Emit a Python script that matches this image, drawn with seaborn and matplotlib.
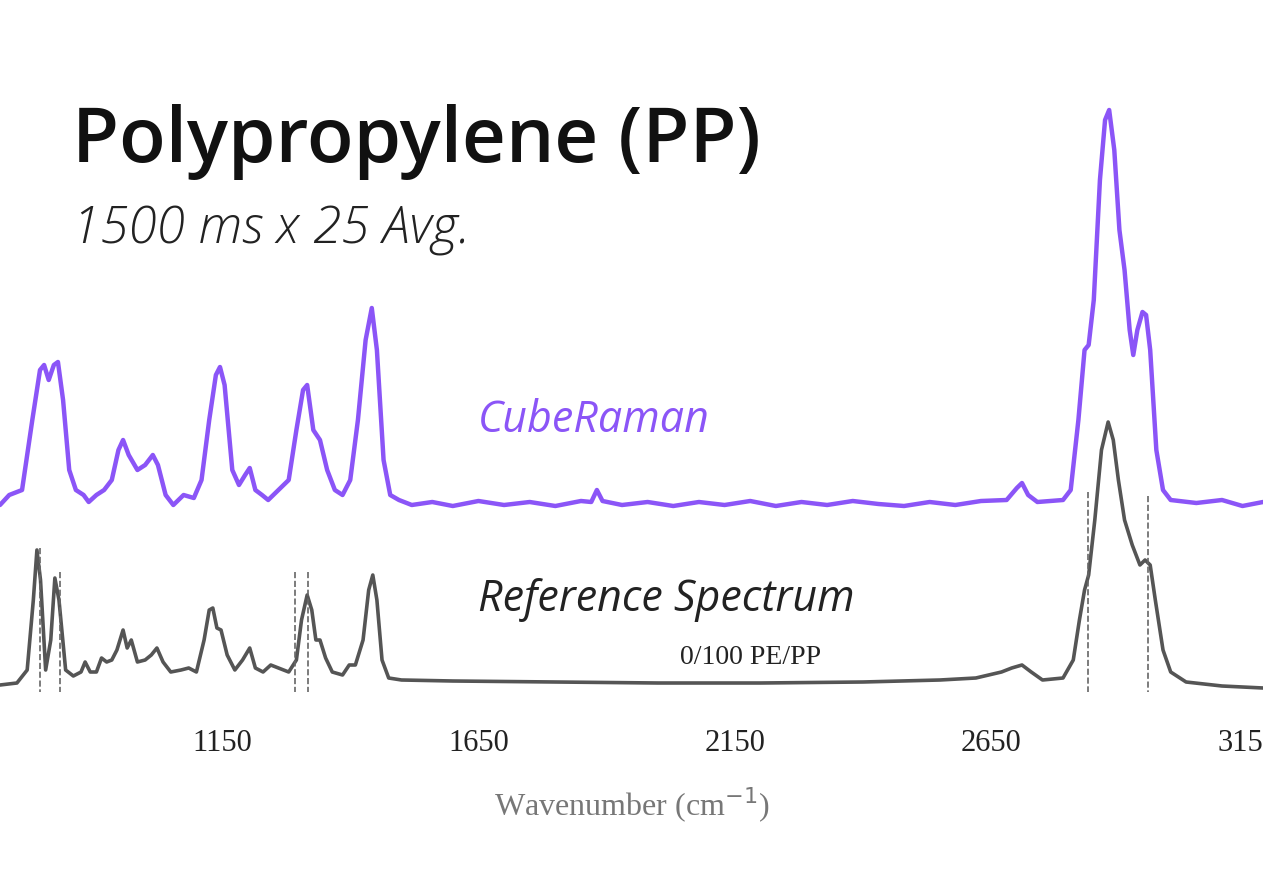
import numpy as np
import pandas as pd
import seaborn as sns
import matplotlib.pyplot as plt

# ============================
# Data (intensity in arbitrary units)
# ============================
cube_wn = [717, 735, 760, 780, 795, 803, 812, 822, 830, 840, 852, 865, 880, 890, 905, 920, 935, 948, 957, 968,
           985, 1000, 1015, 1025, 1040, 1055, 1075, 1095, 1110, 1125, 1138, 1146, 1155, 1170, 1183, 1195, 1204,
           1215, 1228, 1240, 1260, 1280, 1295, 1308, 1316, 1328, 1341, 1355, 1370, 1385, 1400, 1415, 1430, 1442,
           1452, 1465, 1478, 1495, 1520, 1560, 1600, 1650, 1700, 1750, 1800, 1850, 1870, 1881, 1892, 1930, 1980,
           2030, 2080, 2130, 2180, 2230, 2280, 2330, 2380, 2430, 2480, 2530, 2580, 2630, 2680, 2700, 2710, 2722,
           2740, 2790, 2805, 2820, 2832, 2840, 2850, 2862, 2872, 2880, 2890, 2900, 2910, 2920, 2927, 2935, 2945,
           2952, 2960, 2972, 2985, 3000, 3050, 3100, 3140, 3180]
cube_py = [505, 495, 490, 420, 370, 365, 380, 365, 362, 400, 470, 490, 495, 502, 495, 490, 480, 450, 440, 455,
           470, 465, 455, 465, 495, 505, 495, 498, 480, 420, 375, 367, 385, 470, 485, 475, 468,
           490, 495, 500, 490, 480, 430, 390, 385, 430, 440, 470, 490, 495, 480, 420, 340, 308,
           350, 460, 495, 500, 505, 502, 506, 501, 505, 502, 506, 501, 502, 490, 501, 505, 502,
           506, 502, 505, 501, 506, 502, 505, 501, 504, 506, 502, 505, 501, 500, 488, 483, 495,
           502, 500, 490, 420, 350, 345, 300, 180, 120, 110, 150, 230, 270, 330, 355, 330, 312,
           315, 350, 450, 490, 500, 503, 500, 506, 502]

ref_wn = [717, 750, 770, 782, 789, 796, 806, 816, 824, 832, 845, 860, 875, 883, 893, 905, 915, 925, 935, 945, 957,
          965, 973, 985, 1000, 1012, 1023, 1035, 1050, 1070, 1085, 1100, 1115, 1125, 1132, 1140, 1148, 1160, 1175,
          1190, 1204, 1215, 1230, 1245, 1260, 1280, 1295, 1305, 1316, 1325, 1333, 1341, 1352, 1365, 1385, 1398,
          1410, 1425, 1436, 1444, 1452, 1462, 1475, 1500, 1600, 1800, 2000, 2200, 2400, 2550, 2620, 2670, 2690,
          2710, 2728, 2750, 2790, 2810, 2822, 2832, 2840, 2852, 2865, 2878, 2888, 2898, 2910, 2925, 2940, 2950,
          2960, 2970, 2985, 3000, 3030, 3100, 3180]
ref_py = [685, 683, 670, 600, 550, 580, 670, 640, 578, 600, 670, 676, 672, 662, 672, 672, 658, 662, 660, 650, 630,
          648, 640, 662, 660, 655, 648, 662, 672, 670, 668, 672, 640, 610, 608, 628, 630, 655, 670,
          660, 648, 668, 672, 665, 668, 672, 660, 620, 595, 610, 640, 640, 658, 672, 675, 665,
          665, 640, 590, 575, 600, 660, 678, 680, 681, 682, 683, 683, 682, 680, 678, 672, 668,
          665, 672, 680, 678, 660, 620, 590, 575, 520, 450, 422, 440, 480, 520, 545, 565, 560,
          565, 600, 650, 672, 682, 686, 688]

dash_wn = [795, 834, 1292, 1318, 2839, 2956]
dash_top = [548, 572, 572, 572, 492, 496]

tick_vals = [1150, 1650, 2150, 2650, 3150]

TOP = 710  # intensity = TOP - pixel row
df_cube = pd.DataFrame({"wn": cube_wn, "I": [TOP - v for v in cube_py]})
df_ref = pd.DataFrame({"wn": ref_wn, "I": [TOP - v for v in ref_py]})

# ============================
# Figure
# ============================
sns.set_style("white")
fig = plt.figure(figsize=(12.63, 8.85), dpi=100)
ax = fig.add_axes([0, 1 - TOP / 885, 1, TOP / 885])

sns.lineplot(data=df_ref, x="wn", y="I", ax=ax, color="#555555", lw=2.6, sort=False)
sns.lineplot(data=df_cube, x="wn", y="I", ax=ax, color="#8B55F7", lw=3.2, sort=False)
for w, t in zip(dash_wn, dash_top):
    ax.plot([w, w], [TOP - t, TOP - 692], ls="--", color="#666666", lw=1.2)

ax.set_xlim(717, 3180)
ax.set_ylim(0, TOP)
ax.set_yticks([])
ax.set_xticks(tick_vals)
ax.set_xticklabels([str(t) for t in tick_vals], family="Liberation Serif", fontsize=22, color="#222222")
ax.tick_params(axis="x", length=0, pad=14)
ax.set_xlabel("Wavenumber (cm$^{-1}$)", family="Liberation Serif", fontsize=23, color="#777777", labelpad=20)
ax.set_ylabel("")
for s in ax.spines.values():
    s.set_visible(False)

fig.text(72 / 1263, 1 - 162 / 885, "Polypropylene (PP)", fontsize=55, fontweight="semibold", family="Open Sans", color="#111111")
fig.text(72 / 1263, 1 - 243 / 885, "1500 ms x 25 Avg.", fontsize=37, style="italic", fontweight="light", family="Open Sans", color="#222222")
fig.text(478 / 1263, 1 - 432 / 885, "CubeRaman", fontsize=31, style="italic", family="Open Sans", color="#8B55F7")
fig.text(478 / 1263, 1 - 611 / 885, "Reference Spectrum", fontsize=31, style="italic", family="Open Sans", color="#222222")
fig.text(680 / 1263, 1 - 664 / 885, "0/100 PE/PP", fontsize=20, family="Liberation Serif", color="#222222")

fig.savefig("out.png", dpi=100)
